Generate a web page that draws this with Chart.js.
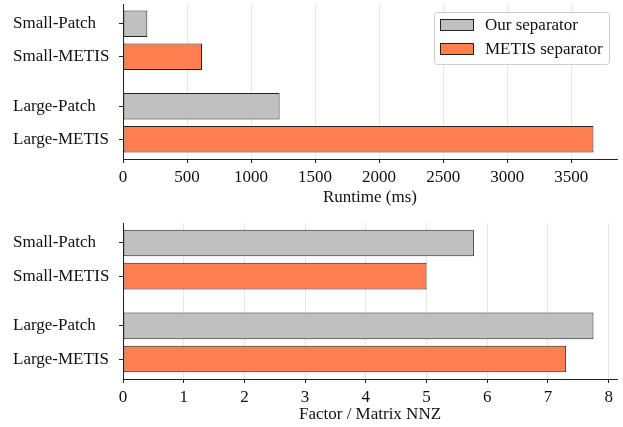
<!DOCTYPE html>
<html>
<head>
<meta charset="utf-8">
<script src="https://cdn.jsdelivr.net/npm/chart.js@4.4.1/dist/chart.umd.min.js"></script>
<style>
    html, body { margin: 0; padding: 0; background: #fff; }
    #wrap { position: relative; width: 623px; height: 427px; }
    canvas { position: absolute; left: 0; }
</style>
</head>
<body>
<div id="wrap">
    <canvas id="runtime" width="623" height="210" style="top:0px"></canvas>
    <canvas id="nnz" width="623" height="217" style="top:210px"></canvas>
</div>
<script>
// Row labels and their place on the y axis (gap between Small and Large)
const rowLabels = ['Small-Patch', 'Small-METIS', 'Large-Patch', 'Large-METIS'];
const rowPos = [0, 1, 2.5, 3.5];

const seriesNames = ['Our separator', 'METIS separator'];

// Runtime (ms): [Small, Large]
const runtimeOurs = [190, 1223];
const runtimeMetis = [617, 3674];

// Factor / Matrix NNZ: [Small, Large]
const nnzOurs = [5.78, 7.75];
const nnzMetis = [5.00, 7.30];

// Tick values
const runtimeTicks = [0, 500, 1000, 1500, 2000, 2500, 3000, 3500];
const nnzTicks = [0, 1, 2, 3, 4, 5, 6, 7, 8];

// Colors
const colors = {
    ours: '#c0c0c0',
    metis: '#ff7f50',
    edge: '#222222',
    grid: '#e6e6e6',
    axis: '#222222',
    text: '#111111'
};

const fontFamily = '"Liberation Serif", "DejaVu Serif", serif';
const baseFont = { family: fontFamily, size: 17 };

// Legend drawn inside the plot area, upper right
const legendBox = {
    id: 'legendBox',
    afterDraw(chart, args, opts) {
        if (!opts.show) return;
        const { ctx, chartArea } = chart;
        const w = 175, h = 52;
        const x = chartArea.right - 8 - w;
        const y = chartArea.top + 8;
        ctx.save();
        ctx.beginPath();
        ctx.roundRect(x + 0.5, y + 0.5, w, h, 3);
        ctx.fillStyle = 'rgba(255,255,255,0.85)';
        ctx.fill();
        ctx.strokeStyle = '#cccccc';
        ctx.lineWidth = 1;
        ctx.stroke();
        chart.data.datasets.forEach((ds, i) => {
            const py = y + 7 + i * 24;
            ctx.fillStyle = ds.backgroundColor;
            ctx.fillRect(x + 6.5, py + 0.5, 33, 11);
            ctx.strokeStyle = ds.borderColor;
            ctx.strokeRect(x + 6.5, py + 0.5, 33, 11);
            ctx.fillStyle = colors.text;
            ctx.font = `${baseFont.size}px ${fontFamily}`;
            ctx.textBaseline = 'middle';
            ctx.textAlign = 'left';
            ctx.fillText(ds.label, x + 51, py + 7);
        });
        ctx.restore();
    }
};

function makeChart(canvasId, ours, metis, xTicks, xTitle, padTop, axisHeight, showLegend) {
    const ctx = document.getElementById(canvasId);
    const xMax = Math.max(...ours, ...metis) * 1.05;
    return new Chart(ctx, {
        type: 'bar',
        data: {
            datasets: [{
                label: seriesNames[0],
                data: ours.map((v, i) => ({ x: v, y: rowPos[i * 2] })),
                backgroundColor: colors.ours,
                borderColor: colors.edge
            }, {
                label: seriesNames[1],
                data: metis.map((v, i) => ({ x: v, y: rowPos[i * 2 + 1] })),
                backgroundColor: colors.metis,
                borderColor: colors.edge
            }]
        },
        options: {
            indexAxis: 'y',
            responsive: false,
            animation: false,
            devicePixelRatio: 1,
            layout: { padding: { left: 13, top: padTop, right: 6, bottom: 0 } },
            datasets: {
                bar: {
                    grouped: false,
                    borderWidth: 1,
                    borderSkipped: false,
                    categoryPercentage: 1,
                    barPercentage: 0.8
                }
            },
            plugins: {
                legend: { display: false },
                tooltip: { enabled: false },
                legendBox: { show: showLegend }
            },
            scales: {
                x: {
                    type: 'linear',
                    min: 0,
                    max: xMax,
                    offset: false,
                    grid: { color: colors.grid, lineWidth: 1, tickColor: colors.axis, tickLength: 4, offset: false },
                    border: { display: true, color: colors.axis, width: 1 },
                    ticks: {
                        color: colors.text,
                        font: baseFont,
                        padding: 4,
                        maxRotation: 0,
                        callback: v => String(v)
                    },
                    title: {
                        display: true,
                        text: xTitle,
                        color: colors.text,
                        font: baseFont,
                        padding: { top: 0, bottom: 2 }
                    },
                    afterBuildTicks: s => { s.ticks = xTicks.map(v => ({ value: v })); },
                    afterFit: s => { s.height = axisHeight; s.paddingLeft = 0; s.paddingRight = 0; }
                },
                y: {
                    type: 'linear',
                    reverse: true,
                    min: -0.6,
                    max: 4.1,
                    offset: false,
                    grid: { drawOnChartArea: false, tickColor: colors.axis, tickLength: 4, offset: false },
                    border: { display: true, color: colors.axis, width: 1 },
                    ticks: {
                        color: colors.text,
                        font: baseFont,
                        crossAlign: 'far',
                        callback: v => {
                            const i = rowPos.indexOf(v);
                            return i >= 0 ? rowLabels[i] : '';
                        }
                    },
                    afterBuildTicks: s => { s.ticks = rowPos.map(v => ({ value: v })); },
                    afterFit: s => { s.width = 110; s.paddingTop = 0; s.paddingBottom = 0; }
                }
            }
        },
        plugins: [legendBox]
    });
}

makeChart('runtime', runtimeOurs, runtimeMetis, runtimeTicks, 'Runtime (ms)', 4, 51, true);
makeChart('nnz', nnzOurs, nnzMetis, nnzTicks, 'Factor / Matrix NNZ', 13, 48, false);
</script>
</body>
</html>
